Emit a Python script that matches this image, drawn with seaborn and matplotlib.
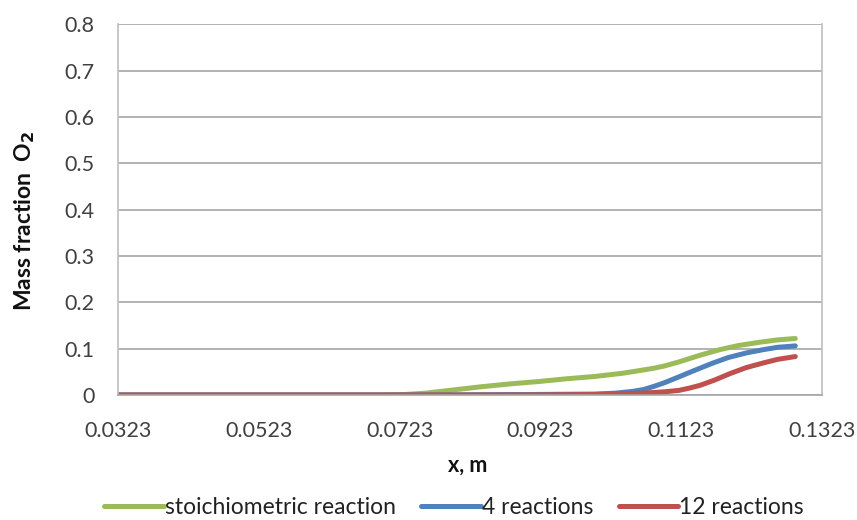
import matplotlib
matplotlib.use("Agg")
import matplotlib.pyplot as plt
import seaborn as sns
import pandas as pd

# Axial profiles of O2 mass fraction for the three kinetic schemes
x_stoich = [0.0323, 0.0450, 0.0600, 0.0700, 0.0730, 0.0760, 0.0800, 0.0840, 0.0880,
            0.0920, 0.0960, 0.1000, 0.1040, 0.1065, 0.1085, 0.1100, 0.1121, 0.1150,
            0.1178, 0.1205, 0.1235, 0.1260, 0.1285]
y_stoich = [0.0, 0.0, 0.0, 0.0, 0.001, 0.004, 0.011, 0.018, 0.024,
            0.029, 0.035, 0.040, 0.047, 0.053, 0.058, 0.063, 0.072, 0.086,
            0.098, 0.107, 0.114, 0.119, 0.122]

x_four = [0.0323, 0.0450, 0.0600, 0.0750, 0.0900, 0.1000, 0.1030, 0.1055, 0.1070,
          0.1085, 0.1100, 0.1121, 0.1145, 0.1168, 0.1190, 0.1216, 0.1240, 0.1260,
          0.1285]
y_four = [0.0, 0.0, 0.0, 0.0, 0.001, 0.002, 0.004, 0.008, 0.012,
          0.019, 0.027, 0.040, 0.055, 0.069, 0.081, 0.091, 0.098, 0.103,
          0.106]

x_twelve = [0.0323, 0.0450, 0.0600, 0.0750, 0.0900, 0.1000, 0.1050, 0.1080, 0.1100,
            0.1120, 0.1135, 0.1150, 0.1170, 0.1192, 0.1215, 0.1239, 0.1260, 0.1285]
y_twelve = [0.0, 0.0, 0.0, 0.0, 0.0, 0.001, 0.003, 0.005, 0.007,
            0.010, 0.015, 0.021, 0.032, 0.046, 0.059, 0.069, 0.077, 0.083]

series_names = ["stoichiometric reaction", "4 reactions", "12 reactions"]
series_colors = ["#9BBB59", "#4F81BD", "#C0504D"]

x_ticks = [0.0323, 0.0523, 0.0723, 0.0923, 0.1123, 0.1323]
x_tick_labels = ["0.0323", "0.0523", "0.0723", "0.0923", "0.1123", "0.1323"]
y_ticks = [0, 0.1, 0.2, 0.3, 0.4, 0.5, 0.6, 0.7, 0.8]
y_tick_labels = ["0", "0.1", "0.2", "0.3", "0.4", "0.5", "0.6", "0.7", "0.8"]

frames = []
for name, xs, ys in zip(series_names, [x_stoich, x_four, x_twelve],
                        [y_stoich, y_four, y_twelve]):
    frames.append(pd.DataFrame({"x": xs, "y": ys, "series": name}))
df = pd.concat(frames, ignore_index=True)

sns.set_theme(style="white")
plt.rcParams["font.family"] = ["Lato", "DejaVu Sans"]

fig = plt.figure(figsize=(8.57, 5.2), dpi=100)
ax = fig.add_axes([0.1377, 0.2404, 0.8215, 0.7125])

sns.lineplot(data=df, x="x", y="y", hue="series", hue_order=series_names,
             palette=series_colors, linewidth=3.6, sort=False, ax=ax,
             legend=False, solid_capstyle="round", solid_joinstyle="round")

ax.set_xlim(0.0323, 0.1323)
ax.set_ylim(0, 0.8)
ax.set_xticks(x_ticks)
ax.set_xticklabels(x_tick_labels)
ax.set_yticks(y_ticks)
ax.set_yticklabels(y_tick_labels)
ax.tick_params(axis="both", labelsize=15.5, colors="#404040", length=0)
ax.tick_params(axis="x", pad=19)
ax.tick_params(axis="y", pad=17)

ax.yaxis.grid(True, color="#A6A6A6", linewidth=1.2)
ax.xaxis.grid(False)
ax.set_axisbelow(True)
for side in ["left", "bottom", "right"]:
    ax.spines[side].set_visible(True)
    ax.spines[side].set_color("#BFBFBF")
    ax.spines[side].set_linewidth(1.2)
ax.spines["top"].set_visible(False)
ax.spines["bottom"].set_color("#A6A6A6")

ax.set_xlabel("x, m", fontsize=15.5, fontweight="bold", color="#111111")
ax.set_ylabel("Mass fraction  O$_\\mathbf{2}$", fontsize=16.5, fontweight="bold",
              color="#111111")
ax.xaxis.set_label_coords(0.497, -0.160)
ax.yaxis.set_label_coords(-0.115, 0.47)

handles = [plt.Line2D([0], [0], color=c, linewidth=3.6) for c in series_colors]
fig.legend(handles, series_names, loc="center", bbox_to_anchor=(0.53, 0.024),
           ncol=3, frameon=False, fontsize=16.5, handlelength=2.6,
           handletextpad=0.05, columnspacing=1.1, labelcolor="#222222")

fig.savefig("out.png", dpi=100, facecolor="white")
